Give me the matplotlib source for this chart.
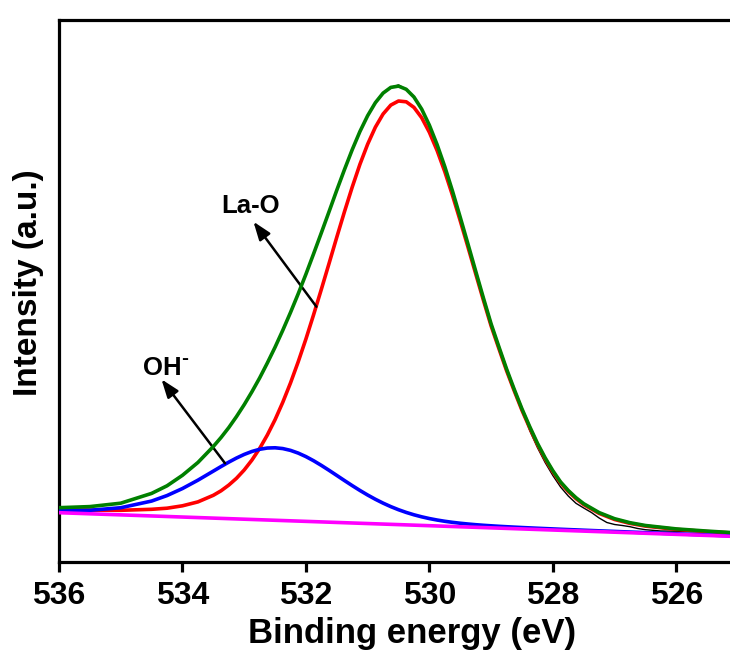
import matplotlib
matplotlib.use("Agg")
import matplotlib.pyplot as plt

plt.rcParams['font.family'] = ['Liberation Sans', 'DejaVu Sans']
plt.rcParams['font.weight'] = 'bold'

# ---- data (binding energy in eV, intensity in a.u.) ----
energy_fit = [536.0, 535.5, 535.0, 534.5, 534.25, 534.0, 533.75, 533.5, 533.375,
              533.25, 533.125, 533.0, 532.875, 532.75, 532.625, 532.5, 532.375, 532.25,
              532.125, 532.0, 531.875, 531.75, 531.625, 531.5, 531.375, 531.25, 531.125,
              531.0, 530.875, 530.75, 530.625, 530.5, 530.375, 530.25, 530.125, 530.0,
              529.875, 529.75, 529.625, 529.5, 529.375, 529.25, 529.125, 529.0, 528.875,
              528.75, 528.625, 528.5, 528.375, 528.25, 528.125, 528.0, 527.875, 527.75,
              527.625, 527.5, 527.25, 527.0, 526.75, 526.5, 526.0, 525.5, 525.1]

la_o = [52.3, 51.9, 51.7, 52.7, 53.8, 56.2, 60.1, 66.7, 71.2,
        76.9, 83.7, 92.0, 101.9, 113.5, 127.0, 142.3, 159.7, 179.0,
        200.2, 223.0, 247.4, 272.7, 298.6, 324.8, 350.4, 374.9, 397.7,
        417.8, 434.8, 448.0, 456.9, 461.0, 460.2, 454.6, 444.3, 429.7,
        411.5, 390.3, 366.6, 341.2, 315.0, 288.3, 261.8, 236.1, 213.6,
        191.4, 171.1, 151.7, 134.1, 117.6, 103.0, 90.2, 79.1, 70.5,
        63.4, 57.4, 48.6, 42.5, 38.6, 35.9, 32.6, 30.4, 29.0]

oh = [51.34, 51.74, 54.27, 60.94, 66.44, 73.47, 81.80, 90.89, 95.46,
      99.86, 103.95, 107.57, 110.53, 112.71, 113.97, 114.22, 113.43, 111.63,
      108.91, 105.40, 101.24, 96.61, 91.67, 86.56, 81.43, 76.39, 71.55,
      66.98, 62.73, 58.87, 55.38, 52.28, 49.57, 47.21, 45.18, 43.44,
      41.97, 40.72, 39.66, 38.75, 37.98, 37.30, 36.71, 36.19, 35.70,
      35.27, 34.86, 34.47, 34.11, 33.75, 33.41, 33.08, 32.74, 32.42,
      32.11, 31.79, 31.17, 30.57, 29.95, 29.36, 28.19, 27.04, 26.12]

envelope = [54.3, 55.4, 58.8, 68.6, 76.2, 86.7, 99.5, 115.5, 124.5,
            134.4, 145.4, 157.3, 170.2, 184.0, 199.0, 214.8, 231.7, 249.5,
            268.2, 287.8, 308.3, 329.2, 350.4, 371.8, 392.5, 412.3, 430.5,
            446.3, 459.3, 468.9, 474.6, 475.9, 472.7, 465.0, 452.9, 436.8,
            417.4, 395.3, 370.8, 344.7, 318.0, 290.9, 264.1, 238.1, 215.4,
            193.1, 172.6, 153.1, 135.4, 118.8, 104.2, 91.3, 80.1, 71.5,
            64.3, 58.3, 49.4, 43.3, 39.3, 36.5, 33.1, 30.9, 29.4]

energy_bg = [536.0, 525.1]
background = [49.3, 25.7]

energy_raw = [536.0, 535.5, 535.0, 534.5, 534.25, 534.0, 533.75, 533.5, 533.375,
              533.25, 533.125, 533.0, 532.875, 532.75, 532.625, 532.5, 532.375, 532.25,
              532.125, 532.0, 531.875, 531.75, 531.625, 531.5, 531.375, 531.25, 531.125,
              531.0, 530.875, 530.75, 530.625, 530.5, 530.375, 530.25, 530.125, 530.0,
              529.875, 529.75, 529.625, 529.5, 529.375, 529.25, 529.125, 529.0, 528.875,
              528.75, 528.625, 528.5, 528.375, 528.25, 528.125, 528.0, 527.875, 527.75,
              527.625, 527.5, 527.375, 527.25, 527.125, 527.0, 526.875, 526.75, 526.625,
              526.5, 526.25, 526.0, 525.75, 525.5, 525.1]
raw = [54.3, 55.4, 58.8, 68.6, 76.2, 86.7, 99.5, 115.5, 124.5,
       134.4, 145.4, 157.3, 170.2, 184.0, 199.0, 214.8, 231.7, 249.5,
       268.2, 287.8, 308.3, 329.2, 350.4, 371.8, 392.5, 412.3, 430.5,
       446.3, 459.3, 468.9, 474.6, 477.0, 472.7, 465.0, 452.9, 436.8,
       417.4, 395.3, 370.8, 344.7, 318.0, 290.9, 264.1, 238.1, 215.4,
       193.1, 172.6, 153.1, 131.5, 114.5, 99.5, 86.5, 75.0, 66.0,
       58.7, 54.0, 49.5, 44.0, 39.5, 37.5, 36.5, 35.3, 33.5,
       32.3, 31.0, 30.8, 30.3, 30.0, 28.8]

ticks = [536, 534, 532, 530, 528, 526]

# ---- figure ----
fig = plt.figure(figsize=(7.30, 6.54), dpi=100)
ax = fig.add_axes([59/730, 92/654, 671/730, 542/654])

line_kw = dict(lw=2.6, solid_joinstyle='round', solid_capstyle='round')
ax.plot(energy_raw, raw, color='black', lw=1.0, zorder=1)
ax.plot(energy_fit, la_o, color='#FF0000', zorder=2, **line_kw)
ax.plot(energy_fit, oh, color='#0000FF', zorder=3, **line_kw)
ax.plot(energy_bg, background, color='#FF00FF', zorder=4, **line_kw)
ax.plot(energy_fit, envelope, color='#008000', zorder=5, **line_kw)

ax.set_xlim(536, 525.13)
ax.set_ylim(0, 542)
ax.set_xticks(ticks)
ax.set_xticklabels([str(t) for t in ticks])
ax.set_yticks([])

for side in ['left', 'top', 'bottom']:
    ax.spines[side].set_linewidth(2.3)
ax.spines['right'].set_visible(False)

ax.tick_params(axis='x', direction='out', length=7.5, width=2.3,
               labelsize=23, pad=6)
for lab in ax.get_xticklabels():
    lab.set_fontweight('bold')

ax.set_xlabel('Binding energy (eV)', fontsize=25, fontweight='bold')
ax.xaxis.set_label_coords(0.526, -0.102)
ax.set_ylabel('Intensity (a.u.)', fontsize=24, fontweight='bold')
ax.yaxis.set_label_coords(-0.022, 0.515)

arrow = dict(arrowstyle='-|>,head_length=0.55,head_width=0.2',
             mutation_scale=20, lw=1.8, color='black',
             shrinkA=0, shrinkB=0)
ax.annotate('', xy=(532.85, 340.3), xytext=(531.83, 255.3), arrowprops=arrow)
ax.annotate('', xy=(534.34, 182.7), xytext=(533.31, 98.7), arrowprops=arrow)
ax.text(533.365, 349, 'La-O', fontsize=18.5, fontweight='bold',
        ha='left', va='baseline')
ax.text(534.64, 187, 'OH', fontsize=18.5, fontweight='bold',
        ha='left', va='baseline')
ax.annotate('-', xy=(534.64, 187), xytext=(27.5, 8.0),
            textcoords='offset points', fontsize=15, fontweight='heavy',
            ha='left', va='baseline')

fig.savefig('out.png', dpi=100)
